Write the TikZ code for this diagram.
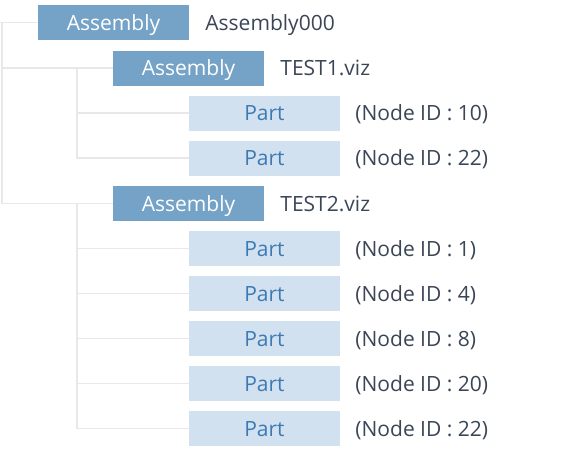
\documentclass[tikz,border=0pt]{standalone}
\usepackage{fontspec}
\setmainfont{Open Sans}
\usetikzlibrary{positioning}

\definecolor{asmblue}{HTML}{75A3C7}
\definecolor{partblue}{HTML}{D2E1F0}
\definecolor{parttext}{HTML}{3D7AB3}
\definecolor{tagtext}{HTML}{3A4556}
\definecolor{linegray}{HTML}{E8E8E8}

\tikzset{
  treefont/.style={font=\fontsize{21}{25}\selectfont,text height=15pt,text depth=0pt},
  asmbox/.style={treefont,fill=asmblue,text=white,minimum width=151pt,minimum height=35pt,inner sep=0pt},
  partbox/.style={treefont,fill=partblue,text=parttext,minimum width=151pt,minimum height=35pt,inner sep=0pt},
  tag/.style={treefont,text=tagtext,inner sep=0pt},
  treeline/.style={draw=linegray,line width=1.2pt}
}

\begin{document}
\begin{tikzpicture}[x=1pt,y=-1pt]
\useasboundingbox (0,0) rectangle (565,455);

% \draw[step=45,gray,very thin] (0,0) grid (565,455);
        \node[asmbox] (asm0) at (113.5,22.5) {Assembly};
        \node[tag,right=16pt of asm0] (asm0 name) {Assembly000};
        \node[asmbox] (asm1) at (188.5,68) {Assembly};
        \node[tag,right=16pt of asm1] (asm1 name) {TEST1.viz};
        \node[asmbox] (asm2) at (188.5,203.5) {Assembly};
        \node[tag,right=16pt of asm2] (asm2 name) {TEST2.viz};

        \coordinate (root end) at (0,22.5);
        \coordinate (root trunk) at (2,22.5);
        \coordinate (trunk1) at (77,68);
        \coordinate (trunk2) at (77,203.5);

        \draw[treeline] (asm0.west) -- (root end);
        \draw[treeline] (root trunk) |- (asm1.west);
        \draw[treeline] (root trunk) |- (asm2.west);

        \foreach \id [count=\i] in {10,22}{
           \node[partbox] (p1\i) at (264.5,68+45*\i) {Part};
           \node[tag,right=15pt of p1\i] (p1\i id) {(Node ID : \id)};
           \draw[treeline] (trunk1) |- (p1\i.west);
        }
        \foreach \id [count=\i] in {1,4,8,20,22}{
           \node[partbox] (p2\i) at (264.5,203.5+45*\i) {Part};
           \node[tag,right=15pt of p2\i] (p2\i id) {(Node ID : \id)};
           \draw[treeline] (trunk2) |- (p2\i.west);
        }

\end{tikzpicture}
\end{document}
